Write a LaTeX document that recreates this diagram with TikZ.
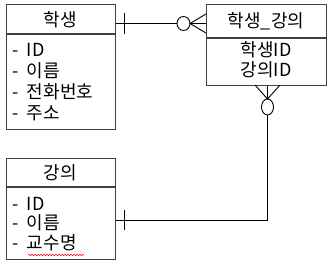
\documentclass[tikz,border=0pt]{standalone}
\usepackage{fontspec}
\setmainfont{Noto Sans CJK KR}
\usetikzlibrary{decorations.pathmorphing}
\newcommand{\dsh}{-\hspace{8pt}}
\begin{document}
\begin{tikzpicture}[x=1pt,y=-1pt,
  entity/.style={draw=black!75, line width=1.2pt, anchor=north west, inner sep=0pt},
  divider/.style={draw=black!75, line width=1.2pt},
  conn/.style={draw=black, line width=0.9pt},
  hdr/.style={font=\fontsize{18}{20}\selectfont, inner sep=0pt},
  item/.style={font=\fontsize{18}{20}\selectfont, inner sep=0pt, anchor=west},
  ctr/.style={font=\fontsize{18}{20}\selectfont, inner sep=0pt}]
\useasboundingbox (0,0) rectangle (331,267);
% entities
\node[entity, minimum width=109pt, minimum height=125pt] (hak) at (6,4) {};
\node[entity, minimum width=120pt, minimum height=81pt] (hg) at (206,4) {};
\node[entity, minimum width=109pt, minimum height=101pt] (gang) at (6,158) {};
\draw[divider] (6,34) -- (115,34);
\draw[divider] (206,38) -- (326,38);
\draw[divider] (6,187) -- (115,187);
% texts
\node[hdr] (t1) at (60,19.5) {학생};
\node[item] (a1) at (12.5,50) {\dsh ID};
\node[item] (a2) at (12.5,71) {\dsh 이름};
\node[item] (a3) at (12.5,92) {\dsh 전화번호};
\node[item] (a4) at (12.5,113) {\dsh 주소};
\node[hdr] (t2) at (266,21.5) {학생\_강의};
\node[ctr] (b1) at (266,50) {학생ID};
\node[ctr] (b2) at (266,70) {강의ID};
\node[hdr] (t3) at (60,173) {강의};
\node[item] (c1) at (12.5,204) {\dsh ID};
\node[item] (c2) at (12.5,223) {\dsh 이름};
\node[item] (c3) at (12.5,243) {\dsh 교수명};
\draw[red, line width=0.5pt, decorate, decoration={snake, amplitude=0.8pt, segment length=3pt}] (28,255) -- (84,255);
% connector 1: 학생 -- 학생_강의
\coordinate (p1) at (hak.east |- 0,23.5);
\coordinate (p2) at (hg.west |- 0,23.5);
\draw[conn] (p1) -- (177,23.5);
\draw[conn] (190,23.5) -- (p2);
\draw[conn] (124.5,13) -- (124.5,34);
\draw[conn] (183.5,23.5) ellipse [x radius=6.5, y radius=7];
\draw[conn] (206,14) -- (190,23.5) -- (206,33);
% connector 2: 학생_강의 -- 강의
\coordinate (q1) at (hg.south -| 267.5,0);
\coordinate (q2) at (gang.east |- 0,220);
\draw[conn] (255,85) -- (267.5,99) -- (280,85);
\draw[conn] (q1) -- (267.5,99);
\draw[conn] (267.5,107) ellipse [x radius=6, y radius=8];
\draw[conn] (267.5,115) -- (267.5,220) -- (q2);
\draw[conn] (124,210) -- (124,230);
\end{tikzpicture}
\end{document}
